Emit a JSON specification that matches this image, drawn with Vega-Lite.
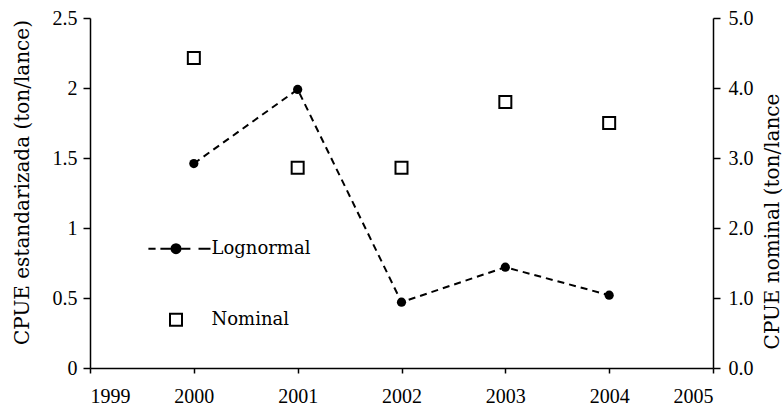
{
  "$schema": "https://vega.github.io/schema/vega-lite/v6.json",
  "width": 623,
  "height": 350,
  "autosize": {"type": "none"},
  "padding": {"left": 90, "top": 18, "right": 70, "bottom": 37},
  "background": "white",
  "config": {
    "view": {"stroke": null},
    "font": "Liberation Serif",
    "axis": {
      "grid": false,
      "domainColor": "black",
      "tickColor": "black",
      "labelColor": "black",
      "titleColor": "black",
      "labelFont": "Liberation Serif",
      "titleFont": "DejaVu Serif",
      "labelFontSize": 20,
      "titleFontSize": 20,
      "titleFontWeight": "normal",
      "domainWidth": 1.5,
      "tickWidth": 1.5
    }
  },
  "data": {
    "values": [
      {"year": 2000, "lognormal": 1.46, "nominal": 4.43},
      {"year": 2001, "lognormal": 1.99, "nominal": 2.86},
      {"year": 2002, "lognormal": 0.47, "nominal": 2.86},
      {"year": 2003, "lognormal": 0.72, "nominal": 3.80},
      {"year": 2004, "lognormal": 0.52, "nominal": 3.50}
    ]
  },
  "layer": [
    {
      "mark": {
        "type": "line",
        "color": "black",
        "strokeWidth": 2,
        "strokeDash": [7, 5],
        "point": {"filled": true, "size": 85, "color": "black", "opacity": 1}
      },
      "encoding": {
        "x": {
          "field": "year",
          "type": "quantitative",
          "scale": {"domain": [1999, 2005], "nice": false},
          "axis": {
            "values": [1999, 2000, 2001, 2002, 2003, 2004, 2005],
            "format": "d",
            "title": null,
            "tickSize": 5,
            "labelPadding": 13
          }
        },
        "y": {
          "field": "lognormal",
          "type": "quantitative",
          "scale": {"domain": [0, 2.5], "nice": false},
          "axis": {
            "orient": "left",
            "values": [0, 0.5, 1, 1.5, 2, 2.5],
            "format": "~g",
            "title": "CPUE estandarizada (ton/lance)",
            "tickSize": 7,
            "labelPadding": 6,
            "titleAngle": 270,
            "titleBaseline": "middle",
            "titleAlign": "center",
            "titleX": -68,
            "titleY": 164
          }
        }
      }
    },
    {
      "mark": {
        "type": "point",
        "shape": "square",
        "filled": false,
        "color": "black",
        "opacity": 1,
        "strokeWidth": 2,
        "size": 144
      },
      "encoding": {
        "x": {"field": "year", "type": "quantitative"},
        "y": {
          "field": "nominal",
          "type": "quantitative",
          "scale": {"domain": [0, 5], "nice": false},
          "axis": {
            "orient": "right",
            "values": [0, 1, 2, 3, 4, 5],
            "format": ".1f",
            "title": "CPUE nominal (ton/lance",
            "tickSize": 7,
            "labelPadding": 8,
            "titleAngle": 270,
            "titleBaseline": "middle",
            "titleAlign": "center",
            "titleX": 59,
            "titleY": 203,
            "encode": {"ticks": {"update": {"x": {"value": -8}}}}
          }
        },
        "shape": {
          "datum": "Nominal",
          "type": "nominal",
          "scale": {
            "domain": ["Lognormal", "Nominal"],
            "range": [
              "M-4.6,0H-3.4M-2.6,0H-0.9M0.9,0H2.4M3.75,0H5.75M-0.75,0A0.75,0.75 0 1,0 0.75,0A0.75,0.75 0 1,0 -0.75,0ZM-0.45,0A0.45,0.45 0 1,0 0.45,0A0.45,0.45 0 1,0 -0.45,0ZM-0.15,0A0.15,0.15 0 1,0 0.15,0A0.15,0.15 0 1,0 -0.15,0Z",
              "square"
            ]
          },
          "legend": {
            "title": null,
            "orient": "none",
            "legendX": 77,
            "legendY": 221.7,
            "symbolSize": 144,
            "symbolStrokeWidth": 2,
            "symbolStrokeColor": "black",
            "symbolOpacity": 1,
            "labelFont": "DejaVu Serif",
            "labelFontSize": 18,
            "labelColor": "black",
            "labelOffset": 26.5,
            "rowPadding": 52
          }
        }
      }
    }
  ],
  "resolve": {"scale": {"y": "independent"}}
}
